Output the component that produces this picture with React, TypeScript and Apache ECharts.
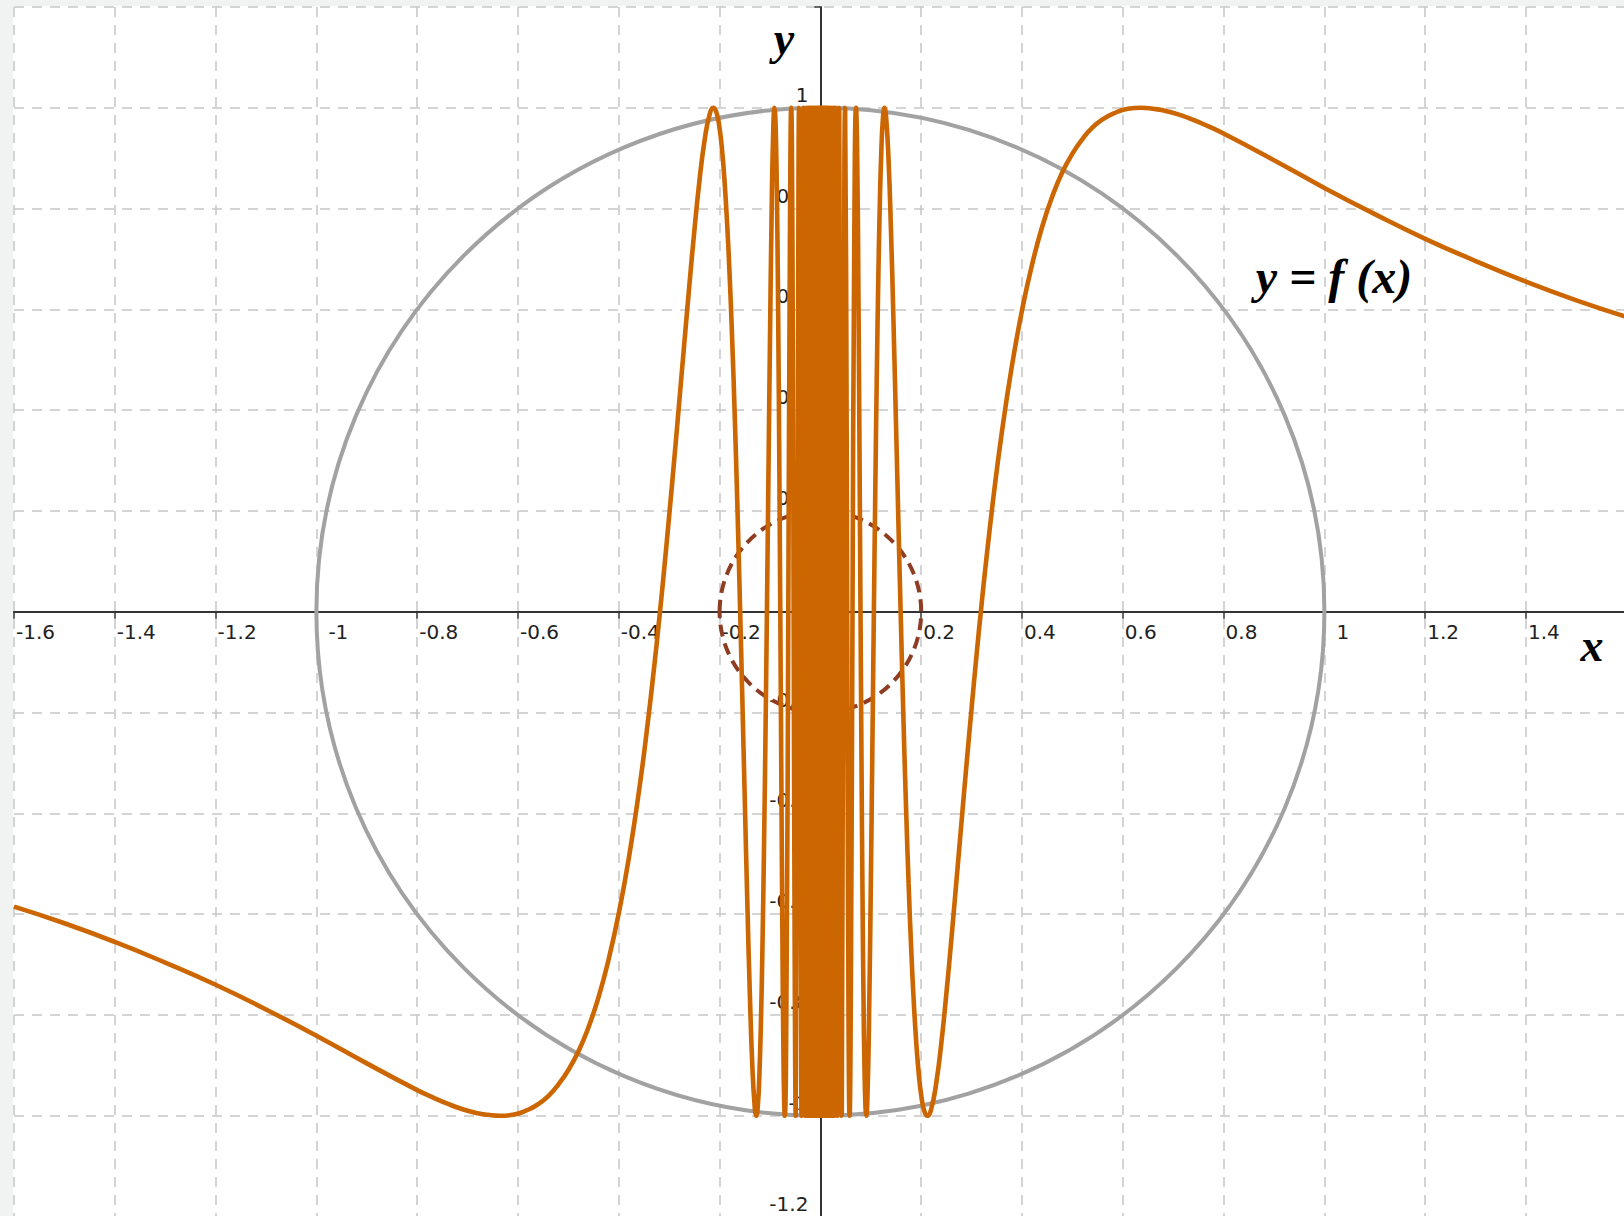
import React, { useEffect, useRef } from "react";
import * as echarts from "echarts";

// y = f(x) sampled left of the y-axis: [x, y]
const leftBranch: [number, number][] = [
  [-1.6, -0.585], [-1.5, -0.618], [-1.4, -0.655], [-1.3, -0.696], [-1.2, -0.74],
  [-1.1, -0.789], [-1.0, -0.841], [-0.9, -0.896], [-0.8, -0.949], [-0.77, -0.963],
  [-0.74, -0.976], [-0.71, -0.987], [-0.68, -0.995], [-0.66, -0.998], [-0.6366, -1],
  [-0.61, -0.998], [-0.58, -0.988], [-0.56, -0.977], [-0.54, -0.961], [-0.52, -0.938],
  [-0.5, -0.909], [-0.48, -0.872], [-0.46, -0.824], [-0.44, -0.764], [-0.42, -0.689],
  [-0.4, -0.598], [-0.38, -0.488], [-0.36, -0.356], [-0.345, -0.241], [-0.33, -0.111],
  [-0.3183, 0], [-0.31, 0.084], [-0.3, 0.191], [-0.29, 0.302], [-0.28, 0.417],
  [-0.27, 0.533], [-0.26, 0.648], [-0.25, 0.757], [-0.24, 0.855], [-0.23, 0.934],
  [-0.22, 0.986], [-0.2122, 1], [-0.206, 0.99], [-0.2, 0.959], [-0.195, 0.915],
  [-0.19, 0.852], [-0.185, 0.769], [-0.18, 0.665], [-0.175, 0.539], [-0.17, 0.39],
  [-0.165, 0.221], [-0.1592, 0], [-0.155, -0.168], [-0.15, -0.374], [-0.145, -0.576],
  [-0.14, -0.758], [-0.135, -0.902], [-0.13, -0.987], [-0.1273, -1], [-0.124, -0.978],
  [-0.121, -0.917], [-0.118, -0.814], [-0.115, -0.666], [-0.112, -0.476], [-0.109, -0.248],
  [-0.1061, 0], [-0.103, 0.28], [-0.1, 0.544], [-0.097, 0.774], [-0.094, 0.937],
  [-0.0909, 1], [-0.0895, 0.984], [-0.0875, 0.908], [-0.0855, 0.764], [-0.0835, 0.557],
  [-0.0815, 0.292], [-0.0796, 0], [-0.0775, -0.33], [-0.0755, -0.628], [-0.073, -0.906],
  [-0.0707, -1], [-0.067, -0.705], [-0.0637, 0], [-0.0605, 0.732], [-0.0579, 1],
  [-0.0555, 0.739], [-0.0531, 0], [-0.051, -0.687], [-0.049, -1], [-0.0455, 0],
  [-0.0424, 1], [-0.0398, 0], [-0.0374, -1], [-0.0335, 1], [-0.0303, -1],
  [-0.0277, 1], [-0.0255, -1], [-0.0236, 1], [-0.022, -1], [-0.0205, 1],
  [-0.0193, -1], [-0.0182, 1], [-0.0172, -1], [-0.0163, 1], [-0.0155, -1],
  [-0.0148, 1], [-0.0142, -1], [-0.0135, 1], [-0.013, -1], [-0.0125, 1],
  [-0.012, -1], [-0.0116, 1], [-0.0112, -1], [-0.0108, 1], [-0.0104, -1],
  [-0.0098, 1], [-0.0092, -1], [-0.0086, 1], [-0.008, -1], [-0.0074, 1],
  [-0.0068, -1], [-0.0062, 1], [-0.0056, -1], [-0.005, 1], [-0.0044, -1],
  [-0.0038, 1], [-0.0032, -1], [-0.0026, 1], [-0.002, -1], [-0.0014, 1],
  [-0.0008, -1],
];

// y = f(x) sampled right of the y-axis: [x, y]
const rightBranch: [number, number][] = [
  [0.0008, 1], [0.0014, -1], [0.002, 1], [0.0026, -1], [0.0032, 1],
  [0.0038, -1], [0.0044, 1], [0.005, -1], [0.0056, 1], [0.0062, -1],
  [0.0068, 1], [0.0074, -1], [0.008, 1], [0.0086, -1], [0.0092, 1],
  [0.0098, -1], [0.0104, 1], [0.0108, -1], [0.0112, 1], [0.0116, -1],
  [0.012, 1], [0.0125, -1], [0.013, 1], [0.0135, -1], [0.0142, 1],
  [0.0148, -1], [0.0155, 1], [0.0163, -1], [0.0172, 1], [0.0182, -1],
  [0.0193, 1], [0.0205, -1], [0.022, 1], [0.0236, -1], [0.0255, 1],
  [0.0277, -1], [0.0303, 1], [0.0335, -1], [0.0374, 1], [0.0398, 0],
  [0.0424, -1], [0.0455, 0], [0.049, 1], [0.051, 0.687], [0.0531, 0],
  [0.0555, -0.739], [0.0579, -1], [0.0605, -0.732], [0.0637, 0], [0.067, 0.705],
  [0.0707, 1], [0.073, 0.906], [0.0755, 0.628], [0.0775, 0.33], [0.0796, 0],
  [0.0815, -0.292], [0.0835, -0.557], [0.0855, -0.764], [0.0875, -0.908], [0.0895, -0.984],
  [0.0909, -1], [0.094, -0.937], [0.097, -0.774], [0.1, -0.544], [0.103, -0.28],
  [0.1061, 0], [0.109, 0.248], [0.112, 0.476], [0.115, 0.666], [0.118, 0.814],
  [0.121, 0.917], [0.124, 0.978], [0.1273, 1], [0.13, 0.987], [0.135, 0.902],
  [0.14, 0.758], [0.145, 0.576], [0.15, 0.374], [0.155, 0.168], [0.1592, 0],
  [0.165, -0.221], [0.17, -0.39], [0.175, -0.539], [0.18, -0.665], [0.185, -0.769],
  [0.19, -0.852], [0.195, -0.915], [0.2, -0.959], [0.206, -0.99], [0.2122, -1],
  [0.22, -0.986], [0.23, -0.934], [0.24, -0.855], [0.25, -0.757], [0.26, -0.648],
  [0.27, -0.533], [0.28, -0.417], [0.29, -0.302], [0.3, -0.191], [0.31, -0.084],
  [0.3183, 0], [0.33, 0.111], [0.345, 0.241], [0.36, 0.356], [0.38, 0.488],
  [0.4, 0.598], [0.42, 0.689], [0.44, 0.764], [0.46, 0.824], [0.48, 0.872],
  [0.5, 0.909], [0.52, 0.938], [0.54, 0.961], [0.56, 0.977], [0.58, 0.988],
  [0.61, 0.998], [0.6366, 1], [0.66, 0.998], [0.68, 0.995], [0.71, 0.987],
  [0.74, 0.976], [0.77, 0.963], [0.8, 0.949], [0.9, 0.896], [1.0, 0.841],
  [1.1, 0.789], [1.2, 0.74], [1.3, 0.696], [1.4, 0.655], [1.5, 0.618],
  [1.6, 0.585],
];

// circles as [centerX, centerY, radius]
const unitCircle: [number, number, number][] = [[0, 0, 1]];
const innerCircle: [number, number, number][] = [[0, 0, 0.2]];

// axis extents and grid step
const xRange = [-1.6, 1.6];
const yRange = [-1.2, 1.2];
const gridStep = 0.2;

// plot box in pixels
const PLOT_LEFT = 14;
const PLOT_TOP = 7;
const PX_PER_UNIT = 504;
const PLOT_W = (xRange[1] - xRange[0]) * PX_PER_UNIT;
const PLOT_H = (yRange[1] - yRange[0]) * PX_PER_UNIT;

const labelFont = '"DejaVu Sans", sans-serif';
const mathFont = '"Liberation Serif", "DejaVu Serif", serif';

function fmtTick(v: number, hideAt: number): string {
  const r = Math.round(v * 10) / 10;
  if (Math.abs(r) < 1e-9 || Math.abs(r - hideAt) < 1e-9) return "";
  return String(r);
}

// x labels at ±1 sit a little further right of their ticks
function fmtXTick(v: number): string {
  const s = fmtTick(v, xRange[1]);
  if (s === "1" || s === "-1") return `{wide|${s}}`;
  return s;
}

function circleRenderer(stroke: string, lineWidth: number, lineDash?: number[]) {
  return (_params: any, api: any) => {
    const c = api.coord([api.value(0), api.value(1)]);
    const s = api.size([api.value(2), api.value(2)]);
    return {
      type: "ellipse",
      shape: { cx: c[0], cy: c[1], rx: s[0], ry: s[1] },
      style: { fill: "none", stroke, lineWidth, lineDash },
    };
  };
}

export default function App() {
  const ref = useRef<HTMLDivElement>(null);

  useEffect(() => {
    if (!ref.current) return;
    const chart = echarts.init(ref.current, null, { renderer: "svg" });
    const curve = [...leftBranch, ...rightBranch];

    const gridLine = {
      show: true,
      lineStyle: { color: "#c6c6c6", width: 1.5, type: [10, 8] as any },
    };

    // shift the axes from the plot edges onto the origin
    const xAxisOffset = -(0 - yRange[0]) * PX_PER_UNIT;
    const yAxisOffset = -(0 - xRange[0]) * PX_PER_UNIT;

    chart.setOption({
      animation: false,
      backgroundColor: "#ffffff",
      grid: {
        left: PLOT_LEFT,
        top: PLOT_TOP,
        width: PLOT_W,
        height: PLOT_H,
        containLabel: false,
        outerBoundsMode: "none",
      },
      xAxis: {
        type: "value",
        position: "bottom",
        offset: xAxisOffset,
        min: xRange[0],
        max: xRange[1],
        interval: gridStep,
        axisLine: { onZero: false, lineStyle: { color: "#333", width: 2 } },
        axisTick: { show: true, length: 7, lineStyle: { color: "#333", width: 1.5 } },
        axisLabel: {
          interval: 0,
          formatter: fmtXTick,
          align: "left",
          margin: 10,
          padding: [0, 0, 0, 2],
          fontFamily: labelFont,
          fontSize: 20,
          color: "#222",
          rich: {
            wide: { padding: [0, 0, 0, 10], fontFamily: labelFont, fontSize: 20, color: "#222" },
          },
        },
        splitLine: gridLine,
      },
      yAxis: {
        type: "value",
        position: "left",
        offset: yAxisOffset,
        min: yRange[0],
        max: yRange[1],
        interval: gridStep,
        axisLine: { onZero: false, lineStyle: { color: "#333", width: 2 } },
        axisTick: { show: true, length: 6, lineStyle: { color: "#333", width: 1.5 } },
        axisLabel: {
          interval: 0,
          formatter: (v: number) => fmtTick(v, yRange[1]),
          align: "right",
          verticalAlign: "bottom",
          margin: 12,
          padding: [0, 0, 3, 0],
          fontFamily: labelFont,
          fontSize: 20,
          color: "#222",
        },
        splitLine: gridLine,
      },
      series: [
        {
          type: "custom",
          name: "unit circle",
          data: unitCircle,
          renderItem: circleRenderer("#a2a2a2", 4),
          clip: false,
          silent: true,
          z: 1,
        },
        {
          type: "custom",
          name: "inner circle",
          data: innerCircle,
          renderItem: circleRenderer("#8e3c22", 4, [12, 7]),
          clip: false,
          silent: true,
          z: 2,
        },
        {
          type: "line",
          name: "f",
          data: curve,
          showSymbol: false,
          smooth: 0.5,
          lineStyle: { color: "#cc6600", width: 4.6 },
          silent: true,
          z: 3,
        },
      ],
      graphic: [
        { type: "rect", shape: { x: 0, y: 0, width: 13, height: 1216 }, style: { fill: "#f1f3f3" }, z: 0, silent: true },
        { type: "rect", shape: { x: 0, y: 0, width: 1624, height: 6 }, style: { fill: "#f1f3f3" }, z: 0, silent: true },
        {
          type: "text",
          x: 784,
          y: 38,
          z: 10,
          style: { text: "y", font: `italic bold 46px ${mathFont}`, fill: "#000", align: "center", verticalAlign: "middle" },
        },
        {
          type: "text",
          x: 1592,
          y: 645,
          z: 10,
          style: { text: "x", font: `italic bold 46px ${mathFont}`, fill: "#000", align: "center", verticalAlign: "middle" },
        },
        {
          type: "text",
          x: 1334,
          y: 276,
          z: 10,
          style: { text: "y = f (x)", font: `italic bold 48px ${mathFont}`, fill: "#000", align: "center", verticalAlign: "middle" },
        },
      ],
    });

    return () => chart.dispose();
  }, []);

  return (
    <div
      ref={ref}
      style={{ position: "absolute", left: 0, top: 0, width: 1624, height: 1216, background: "#fff" }}
    />
  );
}
